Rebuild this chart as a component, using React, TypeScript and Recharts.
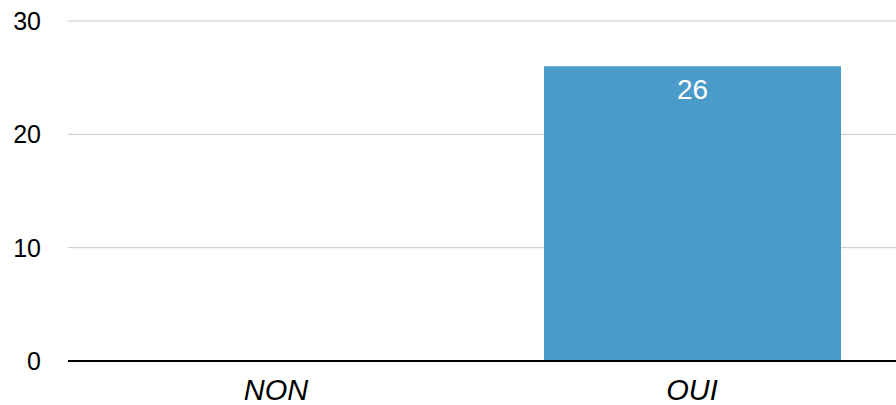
import React from "react";
import { BarChart, Bar, XAxis, YAxis, CartesianGrid, LabelList } from "recharts";

const categories = ["NON", "OUI"];
const values = [0, 26];
const yTicks = [0, 10, 20, 30];

const data = categories.map((c, i) => ({ name: c, value: values[i] }));

export default function App() {
  return (
    <div style={{ position: "absolute", left: 0, top: 0, width: 896, height: 405, overflow: "hidden", background: "#fff" }}>
      <BarChart
        width={900}
        height={405}
        data={data}
        margin={{ top: 21, right: 0, bottom: 0, left: 0 }}
        style={{ fontFamily: "'Liberation Sans', Arial, sans-serif" }}
      >
        <CartesianGrid vertical={false} stroke="#c8c8c8" strokeWidth={1} />
        <XAxis
          dataKey="name"
          height={44}
          tickLine={false}
          tickSize={0}
          tickMargin={18}
          axisLine={{ stroke: "#000", strokeWidth: 2 }}
          tick={{ fill: "#000", fontSize: 29, fontStyle: "italic" }}
        />
        <YAxis
          width={68}
          domain={[0, 30]}
          ticks={yTicks}
          axisLine={false}
          tickLine={false}
          tickSize={0}
          tickMargin={27}
          tick={{ fill: "#000", fontSize: 25 }}
        />
        <Bar dataKey="value" fill="#4A9BCA" barSize={297} isAnimationActive={false}>
          <LabelList
            dataKey="value"
            position="insideTop"
            offset={13}
            fill="#fff"
            fontSize={28}
            formatter={(v: any) => (v === 0 ? "" : v)}
          />
        </Bar>
      </BarChart>
    </div>
  );
}
